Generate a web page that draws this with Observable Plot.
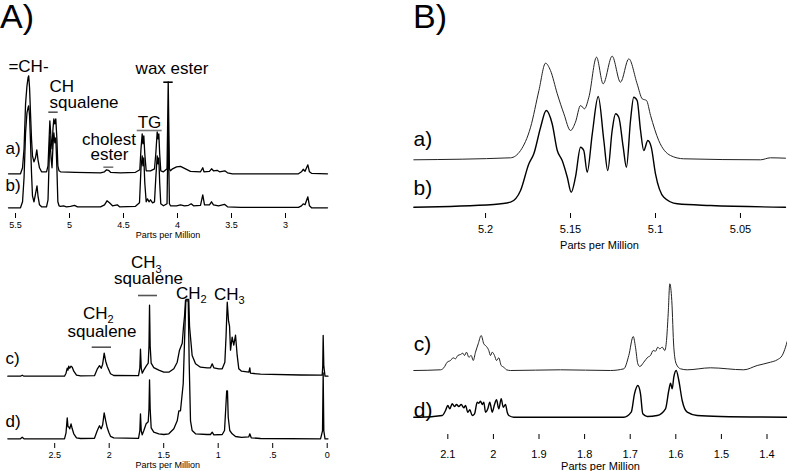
<!DOCTYPE html>
<html><head><meta charset="utf-8">
<script src="https://cdn.jsdelivr.net/npm/d3@7"></script>
<script src="https://cdn.jsdelivr.net/npm/@observablehq/plot@0.6"></script>
<style>
body{margin:0;background:#fff;}
#fig{position:relative;width:787px;height:471px;overflow:hidden;font-family:"Liberation Sans",Arial,sans-serif;background:#fff;}
.panel{position:absolute;}
.letter{position:absolute;font-size:34px;line-height:1;color:#000;}
</style></head><body><div id="fig"></div>
<script>
const FONT = '"Liberation Sans", Arial, sans-serif';

// ---- tick values ----
const A_ticks = [5.5, 5, 4.5, 4, 3.5, 3];
const B_ticks = [5.2, 5.15, 5.1, 5.05];
const C_ticks = [2.5, 2, 1.5, 1, 0.5, 0];
const C_tickLabels = ["2.5", "2", "1.5", "1", ".5", "0"];
const D_ticks = [2.1, 2, 1.9, 1.8, 1.7, 1.6, 1.5, 1.4];

// ---- spectra: [ppm, intensity] ----
const A_a = [[5.565,0],[5.454,0],[5.435,6],[5.421,25],[5.407,70],[5.394,88],[5.384,96],[5.378,98],[5.370,86],[5.361,60],[5.352,35],[5.343,18],[5.329,12],[5.315,16],[5.303,24],[5.292,14],[5.278,6],[5.259,2],[5.213,2],[5.199,8],[5.182,53],[5.171,35],[5.162,25],[5.153,45],[5.145,55],[5.136,50],[5.127,55],[5.117,35],[5.108,8],[5.097,3],[5.083,2],[4.944,1.5],[4.713,1],[4.676,2],[4.657,4],[4.639,3.5],[4.620,1.5],[4.528,1],[4.389,1.5],[4.349,4],[4.338,25],[4.327,40],[4.320,30],[4.312,38],[4.303,20],[4.290,3],[4.250,3],[4.213,5],[4.201,20],[4.188,42],[4.181,35],[4.173,40],[4.165,20],[4.155,3],[4.130,2],[4.097,5],[4.086,92],[4.075,5],[4.065,3],[4.046,5],[4.009,7],[3.972,7.5],[3.926,5],[3.880,2.5],[3.787,2],[3.766,6],[3.755,2],[3.704,2.5],[3.685,5],[3.667,3],[3.633,3.5],[3.611,2],[3.562,3],[3.537,1],[3.491,0],[2.880,0],[2.852,2],[2.836,4.5],[2.819,2.5],[2.793,9],[2.778,2],[2.759,0.5],[2.611,0]];
const A_b = [[5.565,0],[5.454,0],[5.435,6],[5.421,30],[5.407,75],[5.394,95],[5.384,100],[5.378,102],[5.370,92],[5.361,65],[5.352,35],[5.343,12],[5.329,6],[5.315,14],[5.301,22],[5.292,12],[5.278,3],[5.259,1],[5.213,1],[5.199,8],[5.182,72],[5.171,50],[5.162,40],[5.153,62],[5.145,75],[5.136,65],[5.127,70],[5.117,40],[5.108,6],[5.097,2],[5.083,1.5],[5.056,2],[5.028,1],[4.991,1.5],[4.954,2.5],[4.926,1],[4.713,1],[4.676,3],[4.653,7],[4.630,5],[4.602,2],[4.558,3],[4.537,1],[4.389,1.5],[4.352,5],[4.338,40],[4.327,52],[4.320,42],[4.312,50],[4.303,25],[4.290,6],[4.278,9],[4.264,6],[4.250,8],[4.231,5],[4.213,6],[4.201,30],[4.188,52],[4.181,44],[4.173,50],[4.165,25],[4.155,4],[4.130,2],[4.097,4],[4.086,84],[4.075,4],[4.065,2],[4.009,2],[3.972,3],[3.935,2],[3.898,2.5],[3.873,4],[3.852,2],[3.787,2.5],[3.766,13],[3.750,3],[3.704,3],[3.685,6],[3.667,3],[3.620,2],[3.565,3.5],[3.537,1],[3.417,0.5],[2.880,0.5],[2.852,2],[2.836,4],[2.819,3],[2.793,11],[2.778,2],[2.759,0],[2.611,0]];

const B_a = [[5.2422,0],[5.1853,2],[5.1794,9.3],[5.1735,32.6],[5.1686,69.3],[5.1647,96.6],[5.1618,89.3],[5.1578,66],[5.1539,46],[5.1500,29.3],[5.1471,37.6],[5.1441,54.3],[5.1418,51],[5.1392,62.6],[5.1347,102.6],[5.1308,76],[5.1255,103.6],[5.1206,77.6],[5.1157,101],[5.1108,76],[5.1078,61],[5.1053,59.3],[5.1029,44.3],[5.0981,19.3],[5.0912,4.3],[5.0834,1],[5.0382,0],[5.0324,2],[5.0235,1.6]];
const B_b = [[5.2422,0],[5.1951,2.7],[5.1853,5],[5.1794,16.7],[5.1745,43.4],[5.1716,53.4],[5.1676,80],[5.1643,96.7],[5.1608,83.4],[5.1578,56.7],[5.1549,46.7],[5.1519,30],[5.1496,15],[5.1471,30],[5.1441,60],[5.1422,56.7],[5.1402,35],[5.1372,73.4],[5.1337,110.7],[5.1304,66.7],[5.1281,36.7],[5.1255,76.7],[5.1235,93.4],[5.1216,90],[5.1190,60],[5.1171,40],[5.1147,86.7],[5.1128,110],[5.1108,106.7],[5.1088,76.7],[5.1069,56.7],[5.1045,66.7],[5.1025,60],[5.1000,33.4],[5.0951,10],[5.0872,3.4],[5.0676,1.7],[5.0235,0]];

const C_c = [[2.930,0],[2.814,0],[2.798,1],[2.782,0],[2.410,0],[2.396,3],[2.385,8],[2.378,6],[2.371,10],[2.362,8],[2.350,10],[2.339,9],[2.325,5],[2.300,1],[2.263,0.3],[2.135,0.5],[2.110,7],[2.098,9],[2.089,10.5],[2.073,8],[2.060,12],[2.046,23],[2.032,15],[2.018,10],[2.002,6],[1.988,2.5],[1.958,0.7],[1.731,0.5],[1.719,8],[1.713,27],[1.706,8],[1.697,3],[1.683,6],[1.661,10],[1.642,13],[1.635,30],[1.630,71],[1.624,30],[1.615,13],[1.591,8.5],[1.545,6],[1.499,4],[1.453,4],[1.407,7.5],[1.376,14],[1.355,26],[1.330,33],[1.318,50],[1.309,60],[1.300,76],[1.294,76.7],[1.270,76.7],[1.263,50],[1.254,39],[1.239,20.7],[1.208,12.4],[1.163,9],[1.101,8.4],[1.071,8.4],[1.055,12.4],[1.040,8.4],[0.994,7.4],[0.963,7.4],[0.939,14],[0.928,40],[0.917,74],[0.905,55],[0.896,50],[0.887,26],[0.872,39],[0.857,31],[0.841,41],[0.826,21],[0.811,7.4],[0.786,5],[0.719,4],[0.710,8.4],[0.704,3],[0.612,2],[0.245,1.2],[0.046,1],[0.041,10],[0.037,40.7],[0.031,10],[0.020,0],[-0.007,0]];
const C_d = [[2.930,0],[2.814,0],[2.798,1.5],[2.782,0],[2.410,0],[2.396,6],[2.385,21],[2.378,12],[2.371,12],[2.362,10],[2.350,15],[2.339,10],[2.325,5],[2.300,1],[2.263,0.3],[2.135,0.5],[2.110,8],[2.098,11],[2.089,13],[2.073,10],[2.060,14],[2.046,26],[2.032,18],[2.018,11],[2.002,6],[1.988,2.5],[1.958,1],[1.731,0.5],[1.719,8],[1.713,25],[1.706,8],[1.697,4],[1.683,8],[1.661,15],[1.642,17],[1.635,30],[1.630,59],[1.624,30],[1.615,11],[1.591,6.6],[1.545,5],[1.499,4.3],[1.453,5],[1.407,10],[1.376,18],[1.361,28],[1.346,28],[1.321,55],[1.306,108],[1.297,138],[1.275,138],[1.266,75],[1.254,18],[1.239,8.3],[1.208,5],[1.101,4.3],[1.071,4.3],[1.055,6.6],[1.040,4],[0.963,4.3],[0.942,8.3],[0.931,30],[0.922,48],[0.915,48],[0.908,21.6],[0.894,8.3],[0.872,5],[0.841,2.3],[0.786,1.5],[0.719,2],[0.710,5],[0.697,1],[0.612,0.3],[0.061,0],[0.043,8],[0.037,66],[0.031,8],[0.020,0],[-0.007,0]];

const D_c = [[2.1746,0],[2.1160,0.7],[2.1088,2.7],[2.1013,8.3],[2.0941,10],[2.0882,12.7],[2.0831,11.7],[2.0781,15],[2.0721,16],[2.0671,17.3],[2.0634,15],[2.0590,18.3],[2.0539,13.3],[2.0487,15],[2.0443,10],[2.0393,18.3],[2.0333,26.7],[2.0268,35],[2.0211,26.7],[2.0151,24],[2.0101,20],[2.0064,15],[2.0026,18.3],[1.9976,15],[1.9932,10],[1.9882,12.7],[1.9829,5],[1.9772,3.3],[1.9713,0.7],[1.9625,0],[1.8529,0.7],[1.7432,0],[1.7140,1.7],[1.7031,15],[1.6934,34],[1.6884,23.3],[1.6833,6.7],[1.6789,4],[1.6702,8.3],[1.6614,13.3],[1.6555,15],[1.6496,20],[1.6445,19.3],[1.6395,23.3],[1.6351,21.7],[1.6298,23.3],[1.6241,20],[1.6204,30],[1.6167,56.7],[1.6132,86.7],[1.6088,70],[1.6044,23.3],[1.5991,6.7],[1.5897,1.7],[1.5750,0.7],[1.5239,2.7],[1.4509,0.7],[1.4215,5],[1.3923,8.3],[1.3776,10.7],[1.3667,15],[1.3594,23.3],[1.3557,29]];
const D_d = [[2.1746,0],[2.1599,0],[2.1123,1.7],[2.1050,6.7],[2.1000,11.7],[2.0956,8.4],[2.0904,13.4],[2.0853,10.7],[2.0809,12.7],[2.0759,10.7],[2.0706,12.7],[2.0649,9.4],[2.0612,11.7],[2.0561,5],[2.0518,7.4],[2.0465,1.7],[2.0414,3.4],[2.0355,15],[2.0320,14],[2.0283,16],[2.0246,12.7],[2.0211,15],[2.0173,5],[2.0123,8.4],[2.0079,15],[2.0026,5],[1.9976,12.7],[1.9932,17.4],[1.9882,8.4],[1.9829,18.4],[1.9785,10],[1.9735,12.7],[1.9697,5],[1.9662,1.7],[1.9553,0],[1.7140,0],[1.6978,5],[1.6906,23.4],[1.6833,31.7],[1.6774,23.4],[1.6724,3.4],[1.6627,0.7],[1.6408,1.7],[1.6226,8.4],[1.6154,26.7],[1.6116,34],[1.6079,28.4],[1.6044,40],[1.5991,46.7],[1.5934,36.7],[1.5860,16.7],[1.5750,5],[1.5531,1.7],[1.5020,0.7],[1.3557,0]];

// ---- figure ----
const fig = document.getElementById("fig");

function label(t, left, top) {
  const d = document.createElement("div");
  d.className = "letter"; d.textContent = t;
  d.style.left = left + "px"; d.style.top = top + "px";
  fig.appendChild(d);
}

function panel(cfg) {
  const inward = cfg.inwardTicks
    ? [Plot.ruleX(cfg.ticks, {x: d => d, y1: cfg.yDomain[0], y2: cfg.yDomain[0] + 5, stroke: "#000"})]
    : [];
  const svg = Plot.plot({
    width: cfg.width, height: cfg.height,
    marginTop: 0, marginLeft: cfg.ml, marginRight: cfg.mr, marginBottom: cfg.mb,
    x: {domain: cfg.xDomain},
    y: {domain: cfg.yDomain, axis: null},
    style: {background: "transparent", overflow: "visible", fontFamily: FONT, fontSize: cfg.tickFont + "px", color: "#000", maxWidth: "none"},
    marks: [
      Plot.axisX({ticks: cfg.ticks, tickFormat: cfg.fmt, tickSize: cfg.tickSize, tickPadding: cfg.tickPadding, line: true, label: null}),
      ...inward,
      ...cfg.marks,
      Plot.text(["Parts per Million"], {text: d => d, frameAnchor: "bottom", dy: cfg.labelDy, fontSize: cfg.tickFont, lineAnchor: "middle"})
    ]
  });
  const div = document.createElement("div");
  div.className = "panel";
  div.style.left = cfg.left + "px"; div.style.top = cfg.top + "px";
  div.style.width = cfg.width + "px"; div.style.height = cfg.height + "px";
  div.appendChild(svg);
  fig.appendChild(div);
}

const txt = (s, x, y, opts = {}) => Plot.text([s], {x: () => x, y: () => y, text: d => d, fontSize: 17, lineAnchor: "middle", textAnchor: "middle", ...opts});
const bar = (x1, x2, y, stroke = "#555") => Plot.ruleY([y], {x1, x2, stroke, strokeWidth: 1.6});

// Panel A
const offA = 34;
panel({
  left: 0, top: 0, width: 335, height: 243, ml: 8, mr: 8, mb: 30,
  xDomain: [5.565, 2.611], yDomain: [-5.7, 207.3],
  ticks: A_ticks, fmt: d => String(d), tickSize: 5, tickPadding: 3, tickFont: 9, labelDy: 22,
  marks: [
    Plot.line(A_b, {x: d => d[0], y: d => d[1], stroke: "#000", strokeWidth: 1.3}),
    Plot.line(A_a, {x: d => d[0], y: d => d[1] + offA, stroke: "#000", strokeWidth: 1.3}),
    txt("=CH-", 5.38, 141.3),
    txt("CH", 5.185, 120.8, {textAnchor: "start"}),
    txt("squalene", 5.185, 105.3, {textAnchor: "start"}),
    bar(5.192, 5.105, 95.6),
    txt("wax ester", 4.051, 138.8),
    bar(4.127, 4.04, 125.6, "#000"),
    txt("TG", 4.259, 84.8),
    bar(4.373, 4.142, 77.3, "#777"),
    txt("cholest", 4.634, 68.3),
    txt("ester", 4.63, 53.3),
    bar(4.682, 4.59, 40.6, "#777"),
    txt("a)", 5.593, 59.3, {textAnchor: "start"}),
    txt("b)", 5.593, 22.3, {textAnchor: "start"})
  ]
});

// Panel B
const offB = 47.4;
panel({
  left: 400, top: 0, width: 387, height: 250, ml: 13, mr: 2, mb: 32,
  xDomain: [5.2424, 5.0235], yDomain: [-11.3, 206.7], inwardTicks: true,
  ticks: B_ticks, fmt: d => String(d), tickSize: 0, tickPadding: 6.5, tickFont: 11, labelDy: 27,
  marks: [
    Plot.line(B_b, {x: d => d[0], y: d => d[1], stroke: "#000", strokeWidth: 1.4, curve: "monotone-x"}),
    Plot.line(B_a, {x: d => d[0], y: d => d[1] + offB, stroke: "#222", strokeWidth: 1, curve: "monotone-x"}),
    txt("a)", 5.2424, 68.2, {textAnchor: "start", fontSize: 21}),
    txt("b)", 5.2424, 19.2, {textAnchor: "start", fontSize: 21})
  ]
});

// Panel C
const offC = 62.6;
panel({
  left: 0, top: 243, width: 335, height: 228, ml: 7, mr: 7.5, mb: 28,
  xDomain: [2.933, -0.0073], yDomain: [-4.7, 195.3],
  ticks: C_ticks, fmt: d => C_tickLabels[C_ticks.indexOf(d)], tickSize: 5, tickPadding: 3, tickFont: 9, labelDy: 22,
  marks: [
    Plot.line(C_d, {x: d => d[0], y: d => d[1], stroke: "#000", strokeWidth: 1.3}),
    Plot.line(C_c, {x: d => d[0], y: d => d[1] + offC, stroke: "#000", strokeWidth: 1.3}),
    txt("c)", 2.951, 79.8, {textAnchor: "start"}),
    txt("d)", 2.951, 17.3, {textAnchor: "start"}),
    txt("CH", 2.015, 124.8, {textAnchor: "end"}),
    txt("2", 2.015, 119.3, {textAnchor: "start", fontSize: 11}),
    txt("squalene", 2.066, 107.3),
    bar(2.156, 1.979, 91.6),
    txt("CH", 1.575, 176.3, {textAnchor: "end"}),
    txt("3", 1.575, 169.8, {textAnchor: "start", fontSize: 11}),
    txt("squalene", 1.639, 159.8),
    bar(1.731, 1.557, 143.3),
    txt("CH", 1.162, 144.8, {textAnchor: "end"}),
    txt("2", 1.162, 139.8, {textAnchor: "start", fontSize: 11}),
    txt("CH", 0.814, 143.8, {textAnchor: "end"}),
    txt("3", 0.814, 138.8, {textAnchor: "start", fontSize: 11})
  ]
});

// Panel D
const offD = 46.7;
panel({
  left: 400, top: 243, width: 387, height: 228, ml: 13.3, mr: 0.3, mb: 32,
  xDomain: [2.1746, 1.3557], yDomain: [-22.3, 173.7], inwardTicks: true,
  ticks: D_ticks, fmt: d => String(d), tickSize: 0, tickPadding: 10.5, tickFont: 11, labelDy: 27,
  marks: [
    Plot.line(D_d, {x: d => d[0], y: d => d[1], stroke: "#000", strokeWidth: 1.4, curve: "monotone-x"}),
    Plot.line(D_c, {x: d => d[0], y: d => d[1] + offD, stroke: "#222", strokeWidth: 1, curve: "monotone-x"}),
    txt("c)", 2.1746, 73.2, {textAnchor: "start", fontSize: 21}),
    txt("d)", 2.1746, 6.7, {textAnchor: "start", fontSize: 21})
  ]
});

label("A)", 0, -1);
label("B)", 413, -1);
</script></body></html>
